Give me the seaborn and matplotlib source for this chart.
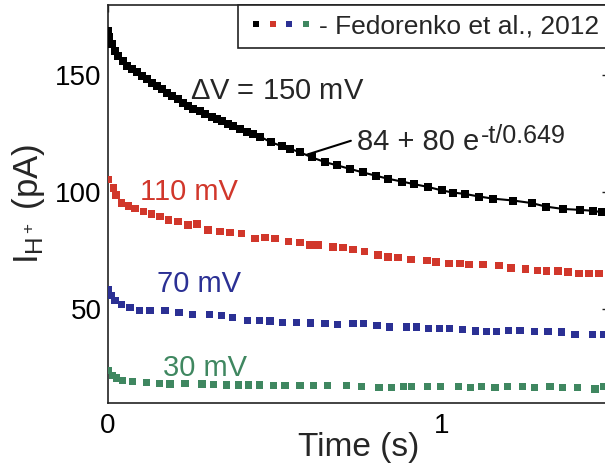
import numpy as np
import pandas as pd
import matplotlib
matplotlib.use('Agg')
import matplotlib.pyplot as plt
from matplotlib.legend_handler import HandlerTuple
from matplotlib.lines import Line2D
import seaborn as sns

# time (s) and proton current (pA)
t_150 = [0.0, 0.003, 0.012, 0.021, 0.030, 0.045, 0.057, 0.072, 0.087, 0.102, 0.117, 0.132,
         0.147, 0.162, 0.177, 0.192, 0.210, 0.225, 0.240, 0.254, 0.275, 0.290, 0.311, 0.326,
         0.341, 0.359, 0.374, 0.395, 0.416, 0.434, 0.455, 0.488, 0.521, 0.545, 0.575, 0.611,
         0.650, 0.686, 0.725, 0.763, 0.802, 0.838, 0.880, 0.916, 0.958, 1.000, 1.033, 1.069,
         1.111, 1.153, 1.213, 1.269, 1.311, 1.362, 1.413, 1.452, 1.479]
i_150 = [169.0, 166.2, 163.3, 160.4, 158.3, 156.2, 154.1, 152.6, 151.2, 149.7, 148.3, 146.9,
         145.4, 144.0, 142.6, 141.2, 139.7, 138.3, 136.9, 135.8, 134.8, 133.3, 132.2, 131.2,
         130.5, 129.0, 128.3, 126.9, 125.9, 124.8, 123.8, 121.4, 119.7, 118.6, 117.1, 114.9,
         112.9, 111.5, 110.0, 108.5, 107.1, 105.8, 104.6, 103.5, 102.3, 100.8, 99.9, 99.3,
         98.2, 97.3, 96.5, 95.4, 93.9, 92.9, 92.5, 92.1, 91.5]

t_110 = [0.0, 0.016, 0.024, 0.041, 0.061, 0.081, 0.106, 0.131, 0.156, 0.181, 0.210, 0.240,
         0.266, 0.300, 0.335, 0.365, 0.400, 0.440, 0.470, 0.500, 0.540, 0.575, 0.605, 0.629,
         0.674, 0.704, 0.734, 0.769, 0.808, 0.838, 0.868, 0.907, 0.955, 0.982, 1.021, 1.054,
         1.081, 1.123, 1.171, 1.207, 1.251, 1.287, 1.314, 1.347, 1.377, 1.410, 1.440, 1.470]
i_110 = [105.5, 101.8, 98.9, 95.4, 94.2, 93.2, 91.8, 90.8, 89.6, 88.2, 87.5, 86.1,
         86.5, 83.9, 83.2, 82.7, 82.5, 80.3, 80.6, 80.3, 78.9, 78.5, 77.5, 77.5,
         76.7, 76.3, 75.5, 74.6, 73.2, 72.4, 72.2, 71.3, 71.0, 70.3, 69.6, 69.6,
         69.2, 69.2, 68.6, 67.7, 67.2, 66.7, 66.4, 66.4, 66.0, 65.3, 65.3, 65.3]

t_70 = [0.0, 0.011, 0.021, 0.041, 0.066, 0.094, 0.126, 0.171, 0.213, 0.254, 0.303, 0.340,
        0.373, 0.418, 0.453, 0.485, 0.523, 0.565, 0.607, 0.650, 0.687, 0.734, 0.766, 0.806,
        0.842, 0.894, 0.924, 0.959, 0.992, 1.022, 1.062, 1.101, 1.134, 1.164, 1.199, 1.234,
        1.278, 1.318, 1.358, 1.398, 1.451, 1.483]
i_70 = [58.2, 56.0, 53.9, 52.1, 50.7, 49.6, 49.6, 49.6, 48.6, 47.9, 47.9, 47.4,
        46.4, 45.3, 45.3, 45.0, 44.5, 44.5, 44.1, 43.9, 43.6, 43.9, 43.9, 43.1,
        42.4, 42.4, 42.4, 41.7, 41.7, 41.7, 41.3, 40.7, 40.6, 40.6, 41.0, 41.0,
        40.6, 40.6, 40.3, 39.3, 39.3, 39.3]

t_30 = [0.0, 0.014, 0.026, 0.044, 0.074, 0.116, 0.154, 0.186, 0.231, 0.281, 0.315, 0.355,
        0.390, 0.420, 0.453, 0.495, 0.530, 0.575, 0.615, 0.657, 0.715, 0.760, 0.812, 0.849,
        0.884, 0.909, 0.956, 0.996, 1.049, 1.086, 1.119, 1.159, 1.197, 1.242, 1.278, 1.323,
        1.361, 1.406, 1.458, 1.485]
i_30 = [23.8, 21.7, 20.7, 19.5, 19.2, 18.8, 18.4, 18.1, 18.4, 18.1, 17.8, 17.7,
        17.7, 17.7, 17.7, 17.4, 17.4, 17.4, 17.4, 17.4, 17.4, 16.95, 16.7, 16.7,
        16.95, 16.95, 16.95, 16.95, 16.95, 16.7, 16.95, 16.7, 16.95, 16.95, 16.7, 16.95,
        16.7, 16.7, 16.0, 16.95]

colors = {'150': 'black', '110': '#d1372b', '70': '#2b3094', '30': '#3f8760'}

sns.set_style('white')
plt.rcParams['font.family'] = ['Liberation Sans', 'DejaVu Sans']
plt.rcParams['mathtext.fontset'] = 'custom'
plt.rcParams['mathtext.rm'] = 'Liberation Sans'
plt.rcParams['mathtext.it'] = 'Liberation Sans'

fig = plt.figure(figsize=(6.05, 4.66), dpi=100)
ax = fig.add_axes([0.1785, 0.1352, 0.828, 0.854])

ms = 5.3
sns.lineplot(x=t_150, y=i_150, ax=ax, color=colors['150'], linewidth=1.5,
             marker='s', markersize=ms, markeredgewidth=0, sort=False, zorder=3)
sns.scatterplot(x=t_110, y=i_110, ax=ax, color=colors['110'], marker='s', s=ms**2,
                linewidth=0, edgecolor='none', zorder=3)
sns.scatterplot(x=t_70, y=i_70, ax=ax, color=colors['70'], marker='s', s=ms**2,
                linewidth=0, edgecolor='none', zorder=3)
sns.scatterplot(x=t_30, y=i_30, ax=ax, color=colors['30'], marker='s', s=ms**2,
                linewidth=0, edgecolor='none', zorder=3)

ax.set_xlim(0, 1.5)
ax.set_ylim(10, 180)
ax.set_xticks([0, 0.5, 1, 1.5])
ax.set_xticklabels(['0', '', '1', ''])
ax.set_yticks([50, 100, 150])
ax.tick_params(direction='in', length=5, width=1, top=True, right=True,
               labelsize=20, colors='#222222', labelcolor='black')
ax.tick_params(axis='x', pad=7)
ax.tick_params(axis='y', pad=4.5)
for sp in ax.spines.values():
    sp.set_visible(True)
    sp.set_color('#222222')
    sp.set_linewidth(1.2)

ax.set_xlabel('Time (s)', fontsize=24, labelpad=-5)
ax.set_ylabel(r'$\mathregular{I_{H^+}}$ (pA)', fontsize=25, labelpad=6)

ax.text(0.245, 139.7, r'$\mathregular{\Delta}$V = 150 mV', fontsize=21, ha='left', va='baseline')
ax.text(0.096, 96.8, '110 mV', fontsize=21, color=colors['110'], ha='left', va='baseline')
ax.text(0.147, 57.4, '70 mV', fontsize=21, color=colors['70'], ha='left', va='baseline')
ax.text(0.165, 21.7, '30 mV', fontsize=21, color=colors['30'], ha='left', va='baseline')
fit = ax.annotate('84 + 80 e', xy=(0.596, 116.1), xytext=(0.745, 118.2),
                  fontsize=21, ha='left', va='baseline',
                  arrowprops=dict(arrowstyle='-', lw=1.5, color='black', relpos=(0, 0.6),
                                  shrinkA=2, shrinkB=0))
ax.annotate('-t/0.649', xy=(1, 0), xycoords=fit, xytext=(2, 13), textcoords='offset pixels',
            fontsize=18, ha='left', va='baseline')

handles = tuple(Line2D([], [], linestyle='none', marker='s', markersize=4.8,
                       markeredgewidth=0, color=colors[k]) for k in ['150', '110', '70', '30'])
leg = ax.legend([handles], ['- Fedorenko et al., 2012'], loc='upper right',
                handler_map={tuple: HandlerTuple(ndivide=None, pad=0)},
                handlelength=2.5, handletextpad=0.21, borderpad=0.36, borderaxespad=0,
                fontsize=19, frameon=True, fancybox=False, framealpha=1)
leg.get_frame().set_edgecolor('#222222')
leg.get_frame().set_linewidth(1.2)
leg.set_zorder(5)

fig.savefig('out.png', dpi=100)
